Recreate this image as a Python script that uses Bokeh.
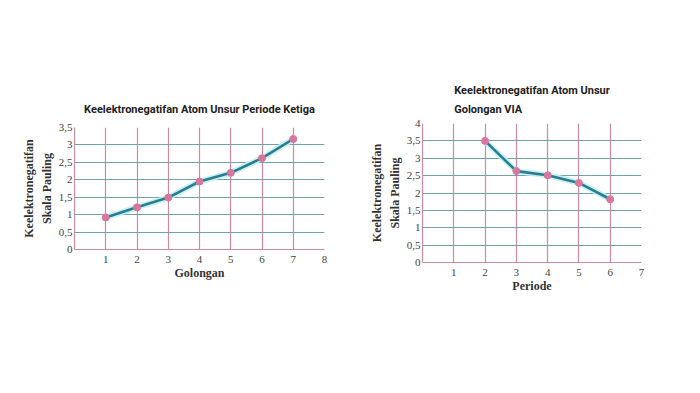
from bokeh.plotting import figure
from bokeh.layouts import row, column
from bokeh.models import FixedTicker, CustomJSTickFormatter, Range1d
from bokeh.embed import file_html
from bokeh.resources import INLINE

# Data
golongan = [1, 2, 3, 4, 5, 6, 7]
en_periode3 = [0.92, 1.21, 1.49, 1.95, 2.2, 2.62, 3.17]
periode = [2, 3, 4, 5, 6]
en_via = [3.5, 2.63, 2.51, 2.29, 1.82]

x_ticks_left = [1, 2, 3, 4, 5, 6, 7, 8]
x_ticks_right = [1, 2, 3, 4, 5, 6, 7]
y_ticks_left = [0, 0.5, 1, 1.5, 2, 2.5, 3, 3.5]
y_ticks_right = [0, 0.5, 1, 1.5, 2, 2.5, 3, 3.5, 4]

title_left = "Keelektronegatifan Atom Unsur Periode Ketiga"
title_right = "Keelektronegatifan Atom Unsur\nGolongan VIA"
ylabel = "Keelektronegatifan\nSkala Pauling"

HGRID = "#6fa2aa"
VGRID = "#cf8aa3"
LINE = "#2c7d8b"
GLOW = "#bff0f7"
MARK = "#d9769c"


def make(xs, ys, xmax, ymax, xt, yt, title, xlabel, w, h, bl, br, bt, bb, standoff):
    p = figure(width=w, height=h, output_backend="svg", toolbar_location=None,
               x_range=Range1d(0, xmax), y_range=Range1d(0, ymax),
               min_border_left=bl, min_border_right=br,
               min_border_top=bt, min_border_bottom=bb)
    p.title.text = title
    p.title.align = "center"
    p.title.text_font = "Roboto"
    p.title.text_font_style = "bold"
    p.title.text_font_size = "11px"
    p.title.text_color = "#222222"
    p.title.text_line_height = 1.45
    p.title.standoff = standoff
    p.outline_line_color = None
    p.background_fill_color = "white"
    p.border_fill_color = "white"

    p.xaxis.ticker = FixedTicker(ticks=xt)
    p.yaxis.ticker = FixedTicker(ticks=yt)
    p.yaxis.formatter = CustomJSTickFormatter(code="return tick.toString().replace('.', ',');")
    for ax in (p.xaxis, p.yaxis):
        ax.major_tick_line_color = None
        ax.minor_tick_line_color = None
        ax.major_tick_out = 0
        ax.major_tick_in = 0
        ax.axis_line_color = VGRID
        ax.axis_line_width = 1.2
        ax.major_label_text_font = "Liberation Serif"
        ax.major_label_text_font_size = "11px"
        ax.major_label_text_color = "#444444"
        ax.axis_label_text_font = "Liberation Serif"
        ax.axis_label_text_font_style = "bold"
        ax.axis_label_text_font_size = "12px"
        ax.axis_label_text_color = "#333333"
        ax.axis_label_text_line_height = 1.3
    p.xaxis.major_label_standoff = 6
    p.yaxis.major_label_standoff = 2
    p.xaxis.axis_label = xlabel
    p.yaxis.axis_label = ylabel
    p.xaxis.axis_label_standoff = 0
    p.yaxis.axis_label_standoff = 2

    p.xgrid.ticker = FixedTicker(ticks=xt)
    p.ygrid.ticker = FixedTicker(ticks=yt)
    p.xgrid.grid_line_color = VGRID
    p.xgrid.grid_line_width = 1.2
    p.ygrid.grid_line_color = HGRID
    p.ygrid.grid_line_width = 1.2

    p.line(xs, ys, line_color=GLOW, line_width=6, line_alpha=0.9)
    p.line(xs, ys, line_color=LINE, line_width=2.6)
    p.scatter(xs, ys, size=7, fill_color=MARK, line_color=MARK)
    return p


p1 = make(golongan, en_periode3, 8, 3.5, x_ticks_left, y_ticks_left,
          title_left, "Golongan", 364, 385, 74, 40, 127, 136, 23)
p2 = make(periode, en_via, 7, 4, x_ticks_right, y_ticks_right,
          title_right, "Periode", 328, 385, 58, 51, 123, 123, 15)

layout = row(column(p1), column(p2))
open("out.html", "w").write(file_html(layout, INLINE))
